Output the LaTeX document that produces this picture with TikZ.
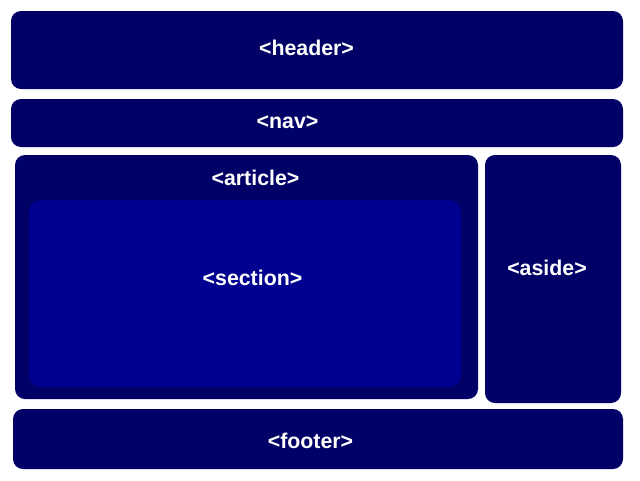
\documentclass[tikz,border=0pt]{standalone}
\usepackage{fontspec}
\setmainfont{Liberation Sans}
\definecolor{boxdark}{HTML}{000066}
\definecolor{boxsec}{HTML}{000090}
\begin{document}
\begin{tikzpicture}[x=0.75pt,y=-0.75pt,
  blk/.style={fill=boxdark,rounded corners=7.5pt},
  secblk/.style={fill=boxsec,rounded corners=9pt},
  lbl/.style={text=white,font=\fontsize{16pt}{18pt}\selectfont\bfseries,anchor=base,inner sep=0pt}]
\useasboundingbox[fill=white] (0,0) rectangle (640,480);
\fill[blk] (11,11) rectangle (623,89);
\fill[blk] (11,99) rectangle (623,147);
\fill[blk] (15,155) rectangle (478,399);
\fill[secblk] (29,200) rectangle (461,387);
\fill[blk] (485,155) rectangle (621,403);
\fill[blk] (13,409) rectangle (623,469);
\node[lbl] (header) at (306.5,55) {<header>};
\node[lbl] (nav) at (287.5,128) {<nav>};
\node[lbl] (article) at (255.5,185) {<article>};
\node[lbl] (section) at (252.5,285) {<section>};
\node[lbl] (aside) at (547,275) {<aside>};
\node[lbl] (footer) at (310.5,448) {<footer>};
\end{tikzpicture}
\end{document}
